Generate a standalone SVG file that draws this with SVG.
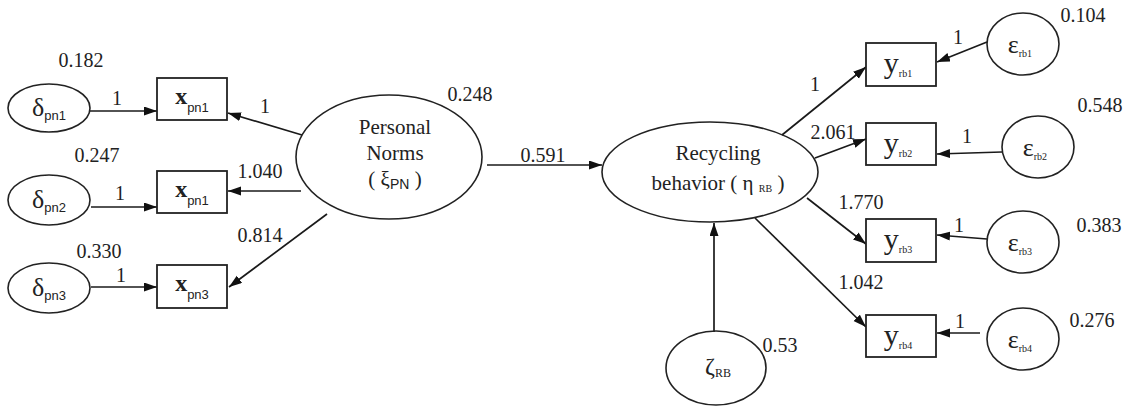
<svg xmlns="http://www.w3.org/2000/svg" width="1140" height="408" viewBox="0 0 1140 408">
<style>
.e{fill:none;stroke:#222;stroke-width:1.6}
.b{fill:#fff;stroke:#222;stroke-width:1.8}
.c{stroke:#1a1a1a;stroke-width:1.7;fill:none;marker-end:url(#ah)}
text{font-family:'Liberation Serif','Times New Roman','DejaVu Serif',serif;fill:#222}
.t{font-size:20px}
.n{font-size:21px}
.g{font-size:26px}
.s{font-family:'Liberation Sans',Arial,sans-serif;font-size:13px}
.ss{font-size:10px}
</style>
<defs>
<marker id="ah" markerUnits="userSpaceOnUse" markerWidth="14" markerHeight="10" refX="13" refY="4.5" orient="auto">
<path d="M0,0 L13,4.5 L0,9 z" fill="#111"/>
</marker>
</defs>
<rect width="1140" height="408" fill="#fff"/>

<g id="connectors">
<line class="c" x1="90" y1="111" x2="157" y2="111"/>
<line class="c" x1="91" y1="207" x2="157" y2="207"/>
<line class="c" x1="91" y1="287" x2="157" y2="287"/>
<line class="c" x1="302" y1="135" x2="228" y2="113"/>
<line class="c" x1="301" y1="191" x2="228" y2="191"/>
<line class="c" x1="327" y1="214" x2="229" y2="287"/>
<line class="c" x1="487" y1="165" x2="602" y2="165"/>
<line class="c" x1="782" y1="135" x2="866" y2="67"/>
<line class="c" x1="815" y1="158" x2="866" y2="139"/>
<line class="c" x1="807" y1="198" x2="866" y2="244"/>
<line class="c" x1="755" y1="218" x2="866" y2="327"/>
<line class="c" x1="987" y1="42" x2="937" y2="62"/>
<line class="c" x1="1002" y1="152" x2="937" y2="154"/>
<line class="c" x1="987" y1="239" x2="937" y2="235"/>
<line class="c" x1="980" y1="333" x2="937" y2="333"/>
<line class="c" x1="714" y1="332" x2="714" y2="223"/>
<text class="t" x="117" y="105" text-anchor="middle">1</text>
<text class="t" x="120" y="200" text-anchor="middle">1</text>
<text class="t" x="121" y="282" text-anchor="middle">1</text>
<text class="t" x="265" y="113" text-anchor="middle">1</text>
<text class="t" x="260" y="178" text-anchor="middle">1.040</text>
<text class="t" x="260" y="242" text-anchor="middle">0.814</text>
<text class="t" x="543" y="162" text-anchor="middle">0.591</text>
<text class="t" x="815" y="91" text-anchor="middle">1</text>
<text class="t" x="833" y="139" text-anchor="middle">2.061</text>
<text class="t" x="861" y="209" text-anchor="middle">1.770</text>
<text class="t" x="861" y="289" text-anchor="middle">1.042</text>
<text class="t" x="958" y="44" text-anchor="middle">1</text>
<text class="t" x="967" y="143" text-anchor="middle">1</text>
<text class="t" x="959" y="232" text-anchor="middle">1</text>
<text class="t" x="960" y="328" text-anchor="middle">1</text>
</g>

<g id="d_pn1">
<ellipse class="e" cx="49" cy="108" rx="41" ry="24"/>
<text class="g" x="49" y="116" text-anchor="middle">δ<tspan class="s" dy="4">pn1</tspan></text>
<text class="t" x="81" y="67" text-anchor="middle">0.182</text>
</g>
<g id="d_pn2">
<ellipse class="e" cx="49" cy="200" rx="41" ry="25"/>
<text class="g" x="49" y="208" text-anchor="middle">δ<tspan class="s" dy="4">pn2</tspan></text>
<text class="t" x="97" y="162" text-anchor="middle">0.247</text>
</g>
<g id="d_pn3">
<ellipse class="e" cx="49" cy="288" rx="41" ry="25"/>
<text class="g" x="49" y="296" text-anchor="middle">δ<tspan class="s" dy="4">pn3</tspan></text>
<text class="t" x="99" y="258" text-anchor="middle">0.330</text>
</g>

<g id="x_pn1">
<rect class="b" x="157" y="78" width="70" height="42"/>
<text class="g" x="192" y="104" text-anchor="middle" font-weight="bold" style="font-size:24px">x<tspan class="s" dy="8" font-weight="normal">pn1</tspan></text>
</g>
<g id="x_pn1b">
<rect class="b" x="157" y="171" width="70" height="42"/>
<text class="g" x="192" y="197" text-anchor="middle" font-weight="bold" style="font-size:24px">x<tspan class="s" dy="8" font-weight="normal">pn1</tspan></text>
</g>
<g id="x_pn3">
<rect class="b" x="157" y="265" width="70" height="43"/>
<text class="g" x="192" y="291" text-anchor="middle" font-weight="bold" style="font-size:24px">x<tspan class="s" dy="8" font-weight="normal">pn3</tspan></text>
</g>

<g id="personal_norms">
<ellipse class="e" cx="389" cy="157" rx="93" ry="62"/>
<text class="n" x="395" y="134" text-anchor="middle">Personal</text>
<text class="n" x="395" y="160" text-anchor="middle">Norms</text>
<text class="n" x="395" y="186" text-anchor="middle">( ξ<tspan class="s" style="font-size:14px" dy="3">PN</tspan><tspan dy="-3"> )</tspan></text>
<text class="t" x="470" y="101" text-anchor="middle">0.248</text>
</g>

<g id="recycling_behavior">
<ellipse class="e" cx="710" cy="172" rx="108" ry="50"/>
<text class="n" x="718" y="160" text-anchor="middle">Recycling</text>
<text class="n" x="718" y="190" text-anchor="middle">behavior ( η <tspan class="ss" dy="2">RB</tspan><tspan dy="-2"> )</tspan></text>
</g>

<g id="y_rb1">
<rect class="b" x="866" y="43" width="70" height="43"/>
<text class="g" x="898" y="73" text-anchor="middle" style="font-size:30px">y<tspan class="ss" dy="4">rb1</tspan></text>
</g>
<g id="y_rb2">
<rect class="b" x="866" y="123" width="70" height="42"/>
<text class="g" x="898" y="153" text-anchor="middle" style="font-size:30px">y<tspan class="ss" dy="4">rb2</tspan></text>
</g>
<g id="y_rb3">
<rect class="b" x="866" y="219" width="70" height="43"/>
<text class="g" x="898" y="249" text-anchor="middle" style="font-size:30px">y<tspan class="ss" dy="4">rb3</tspan></text>
</g>
<g id="y_rb4">
<rect class="b" x="866" y="315" width="70" height="42"/>
<text class="g" x="898" y="345" text-anchor="middle" style="font-size:30px">y<tspan class="ss" dy="4">rb4</tspan></text>
</g>

<g id="e_rb1">
<ellipse class="e" cx="1023" cy="44" rx="36" ry="31"/>
<text class="g" x="1020" y="53" text-anchor="middle">ε<tspan class="ss" dy="4">rb1</tspan></text>
<text class="t" x="1083" y="22" text-anchor="middle">0.104</text>
</g>
<g id="e_rb2">
<ellipse class="e" cx="1038" cy="147" rx="36" ry="31"/>
<text class="g" x="1035" y="156" text-anchor="middle">ε<tspan class="ss" dy="4">rb2</tspan></text>
<text class="t" x="1100" y="112" text-anchor="middle">0.548</text>
</g>
<g id="e_rb3">
<ellipse class="e" cx="1023" cy="242" rx="36" ry="31"/>
<text class="g" x="1020" y="251" text-anchor="middle">ε<tspan class="ss" dy="4">rb3</tspan></text>
<text class="t" x="1099" y="232" text-anchor="middle">0.383</text>
</g>
<g id="e_rb4">
<ellipse class="e" cx="1023" cy="339" rx="36" ry="31"/>
<text class="g" x="1020" y="348" text-anchor="middle">ε<tspan class="ss" dy="4">rb4</tspan></text>
<text class="t" x="1092" y="327" text-anchor="middle">0.276</text>
</g>

<g id="zeta_rb">
<ellipse class="e" cx="716" cy="368" rx="50" ry="37"/>
<text class="g" x="718" y="374" text-anchor="middle" style="font-size:24px">ζ<tspan class="ss" style="font-size:12px" dy="3">RB</tspan></text>
<text class="t" x="780" y="352" text-anchor="middle">0.53</text>
</g>
</svg>
